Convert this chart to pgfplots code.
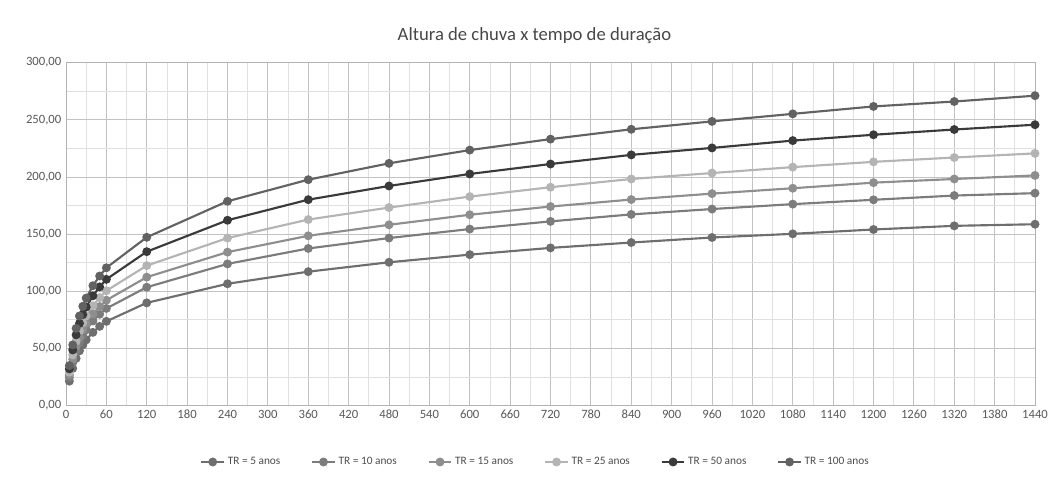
\documentclass[border=0pt]{standalone}
\usepackage{fontspec}
\setmainfont{Carlito}
\usepackage{pgfplots}
\pgfplotsset{compat=1.18}
\usepackage{pgfplotstable}

\definecolor{trcinco}{HTML}{6E6E6E}
\definecolor{trdez}{HTML}{7C7C7C}
\definecolor{trquinze}{HTML}{8E8E8E}
\definecolor{trvinte}{HTML}{B4B4B4}
\definecolor{trcinquenta}{HTML}{3A3A3A}
\definecolor{trcem}{HTML}{626262}

% altura de chuva (mm) por duracao (min)
\pgfplotstableread{
t     tr5    tr10   tr15   tr25   tr50   tr100
5     21.3   24.6   26.7   29.1   32.0   34.9
10    32.4   37.4   40.5   44.2   48.6   53.0
15    41.2   47.5   51.6   56.2   61.8   67.5
20    47.8   55.2   59.9   65.3   71.8   78.3
25    53.0   61.1   66.3   72.3   79.5   86.8
30    57.4   66.2   71.8   78.3   86.1   94.0
40    64.0   73.9   80.1   87.3   96.0   104.8
50    69.2   79.8   86.6   94.4   103.8  113.3
60    73.6   84.9   92.1   100.4  110.4  120.5
120   89.8   103.5  112.3  122.4  134.6  147.2
240   106.5  123.9  134.2  146.5  162.1  178.7
360   117.1  137.4  148.5  162.7  180.1  197.6
480   125.3  146.5  158.1  173.2  192.1  211.9
600   132.0  154.4  166.9  182.8  202.6  223.5
720   137.9  161.1  174.1  191.0  211.3  233.1
840   142.6  167.2  180.2  198.2  219.3  241.7
960   147.0  171.9  185.4  203.4  225.4  248.6
1080  150.2  176.2  190.1  208.6  231.8  255.2
1200  154.0  180.0  195.0  213.2  236.9  261.7
1320  157.2  183.7  198.2  217.0  241.5  266.0
1440  158.6  185.8  201.3  220.6  245.7  271.1
}\chuva

\begin{document}
\begin{tikzpicture}
\useasboundingbox (-49.5pt,-57.4pt) rectangle (741.75pt,304.1pt);
\begin{axis}[
    width=726.75pt, height=257.1pt, scale only axis,
    xmin=0, xmax=1440, ymin=0, ymax=300,
    xtick distance=60, ytick distance=50,
    minor x tick num=1, minor y tick num=1,
    grid=both,
    major grid style={draw=black!24, line width=0.6pt},
    minor grid style={draw=black!12, line width=0.5pt},
    axis line style={draw=black!30},
    major tick length=0pt, minor tick length=0pt,
    tick label style={font=\fontsize{9.5}{11}\selectfont, text=black!65},
    yticklabel style={/pgf/number format/fixed,
        /pgf/number format/fixed zerofill,
        /pgf/number format/precision=2,
        /pgf/number format/use comma,
        /pgf/number format/assume math mode=true},
    xticklabel style={/pgf/number format/1000 sep={},
        /pgf/number format/assume math mode=true},
    scaled ticks=false,
    title={Altura de chuva x tempo de duração},
    title style={font=\fontsize{14}{16}\selectfont, text=black!72, yshift=5pt, xshift=-12pt},
    legend style={at={(0.5,0)}, anchor=center, yshift=-42.4pt, xshift=-11pt,
        draw=none, fill=none, legend columns=6,
        font=\fontsize{8.5}{10}\selectfont, text=black!70,
        /tikz/every even column/.append style={column sep=21pt}},
    every axis plot/.append style={line width=1.6pt, mark=*, mark size=2.5pt},
    clip=false,
]
\addplot[trcinco, mark options={fill=trcinco}] table[x=t, y=tr5] {\chuva};
\addlegendentry{TR = 5 anos}
\addplot[trdez, mark options={fill=trdez}] table[x=t, y=tr10] {\chuva};
\addlegendentry{TR = 10 anos}
\addplot[trquinze, mark options={fill=trquinze}] table[x=t, y=tr15] {\chuva};
\addlegendentry{TR = 15 anos}
\addplot[trvinte, mark options={fill=trvinte}] table[x=t, y=tr25] {\chuva};
\addlegendentry{TR = 25 anos}
\addplot[trcinquenta, mark options={fill=trcinquenta}] table[x=t, y=tr50] {\chuva};
\addlegendentry{TR = 50 anos}
\addplot[trcem, mark options={fill=trcem}] table[x=t, y=tr100] {\chuva};
\addlegendentry{TR = 100 anos}
\end{axis}
\end{tikzpicture}
\end{document}
